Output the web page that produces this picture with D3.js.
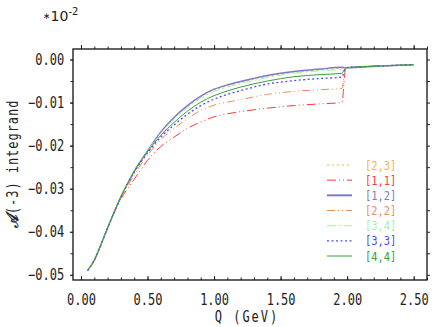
<!DOCTYPE html>
<html>
<head>
<meta charset="utf-8">
<script src="https://cdn.jsdelivr.net/npm/d3@7"></script>
<style>
  body { margin: 0; background: #fff; }
  svg { display: block; }
  .txt { font-family: "DejaVu Sans Mono", monospace; fill: #222; }
</style>
</head>
<body>
<div id="chart"></div>
<script>
const WIDTH = 436;
const HEIGHT = 327;
const LEFT = 73;
const TOP = 49;
const RIGHT = 427;
const BOTTOM = 280;

// Q values (GeV) for the region before the threshold
const qLow = [0.05, 0.10, 0.15, 0.20, 0.25, 0.30, 0.35, 0.40, 0.50, 0.60, 0.70, 0.80, 0.90, 1.00, 1.10, 1.20, 1.40, 1.60, 1.80, 1.96];
// common tail after the threshold
const qTail = [1.99, 2.25, 2.50];
const tailValues = [-0.0019, -0.0015, -0.0012];

const v23 = [-0.0490, -0.0466, -0.0430, -0.0391, -0.0354, -0.0319, -0.0289, -0.0260, -0.0213, -0.0169, -0.0136, -0.0109, -0.0087, -0.0071, -0.0061, -0.0053, -0.0039, -0.0030, -0.0024, -0.0020];
const v11 = [-0.0490, -0.0466, -0.0430, -0.0391, -0.0355, -0.0324, -0.0300, -0.0278, -0.0234, -0.0202, -0.0180, -0.0160, -0.0145, -0.0133, -0.0126, -0.0121, -0.0113, -0.0107, -0.0103, -0.0100];
const v12 = [-0.0490, -0.0466, -0.0430, -0.0391, -0.0354, -0.0319, -0.0288, -0.0259, -0.0212, -0.0168, -0.0134, -0.0107, -0.0085, -0.0069, -0.0059, -0.0051, -0.0037, -0.0028, -0.0022, -0.0018];
const v22 = [-0.0490, -0.0466, -0.0430, -0.0391, -0.0354, -0.0321, -0.0293, -0.0268, -0.0222, -0.0186, -0.0160, -0.0138, -0.0118, -0.0106, -0.0099, -0.0093, -0.0081, -0.0074, -0.0070, -0.0067];
const v34 = [-0.0490, -0.0466, -0.0430, -0.0391, -0.0354, -0.0319, -0.0288, -0.0260, -0.0213, -0.0171, -0.0139, -0.0112, -0.0090, -0.0074, -0.0064, -0.0056, -0.0042, -0.0032, -0.0026, -0.0023];
const v33 = [-0.0490, -0.0466, -0.0430, -0.0391, -0.0354, -0.0319, -0.0289, -0.0262, -0.0217, -0.0180, -0.0152, -0.0127, -0.0107, -0.0092, -0.0081, -0.0072, -0.0057, -0.0049, -0.0044, -0.0041];
const v44 = [-0.0490, -0.0466, -0.0430, -0.0391, -0.0354, -0.0319, -0.0288, -0.0260, -0.0214, -0.0176, -0.0146, -0.0120, -0.0099, -0.0084, -0.0073, -0.0064, -0.0050, -0.0040, -0.0035, -0.0032];

const seriesNames = ['[2,3]', '[1,1]', '[1,2]', '[2,2]', '[3,4]', '[3,3]', '[4,4]'];
const seriesValues = [v23, v11, v12, v22, v34, v33, v44];
const seriesColors = ['#f8b050', '#ff3a3a', '#7a7ac8', '#e89060', '#a8f0a8', '#4a4aff', '#3aa03a'];
const seriesDash = ['2,3', '9,3,1,3,1,3', null, '8,3,1,3,1,3', '9,3,2,3', '2,2.5', null];
const seriesWidth = [1, 1, 1.4, 1, 1, 1.3, 1];

const xTicks = [0, 0.5, 1.0, 1.5, 2.0, 2.5];
const yTicks = [0, -0.01, -0.02, -0.03, -0.04, -0.05];

let svg = d3.select('#chart').append('svg')
  .attr('width', WIDTH)
  .attr('height', HEIGHT);

const xScale = d3.scaleLinear().domain([-0.06, 2.6]).range([LEFT, RIGHT]);
const yScale = d3.scaleLinear().domain([0.00244, -0.0512]).range([TOP, BOTTOM]);

function styleTicks(g) {
  g.select('.domain').remove();
  g.selectAll('line').attr('stroke', '#222');
}

// minor ticks first, major on top
const xMinor = d3.range(0, 2.61, 0.1);
const yMinor = d3.range(0, -0.0511, -0.005);

svg.append('g')
  .attr('transform', `translate(0,${BOTTOM})`)
  .call(d3.axisBottom(xScale).tickValues(xMinor).tickSize(-2.5).tickFormat(''))
  .call(styleTicks);
svg.append('g')
  .attr('transform', `translate(0,${BOTTOM})`)
  .call(d3.axisBottom(xScale).tickValues(xTicks).tickSize(-4).tickPadding(14).tickFormat(d3.format('.2f')))
  .call(styleTicks)
  .selectAll('text')
  .attr('class', 'txt')
  .style('font-size', '15px')
  .attr('transform', 'scale(0.8,1)');

svg.append('g')
  .attr('transform', `translate(0,${TOP})`)
  .call(d3.axisTop(xScale).tickValues(xMinor).tickSize(2.5).tickFormat(''))
  .call(styleTicks);
svg.append('g')
  .attr('transform', `translate(0,${TOP})`)
  .call(d3.axisTop(xScale).tickValues(xTicks).tickSize(4).tickFormat(''))
  .call(styleTicks);

svg.append('g')
  .attr('transform', `translate(${LEFT},0)`)
  .call(d3.axisLeft(yScale).tickValues(yMinor).tickSize(2.5).tickFormat(''))
  .call(styleTicks);
svg.append('g')
  .attr('transform', `translate(${LEFT},0)`)
  .call(d3.axisLeft(yScale).tickValues(yTicks).tickSize(3).tickPadding(8).tickFormat(d3.format('.2f')))
  .call(styleTicks)
  .selectAll('text')
  .attr('class', 'txt')
  .style('font-size', '15px')
  .attr('transform', 'scale(0.8,1)');

svg.append('g')
  .attr('transform', `translate(${RIGHT},0)`)
  .call(d3.axisRight(yScale).tickValues(yMinor).tickSize(3).tickFormat(''))
  .call(styleTicks);

// frame
svg.append('rect')
  .attr('x', LEFT)
  .attr('y', TOP)
  .attr('width', RIGHT - LEFT)
  .attr('height', BOTTOM - TOP)
  .attr('fill', 'none')
  .attr('stroke', '#111')
  .attr('stroke-width', 1.3);

let line = d3.line()
  .x((d) => xScale(d.q))
  .y((d) => yScale(d.v))
  .curve(d3.curveMonotoneX);

seriesValues.forEach((vals, i) => {
  let pts = qLow.map((q, j) => ({q: q, v: vals[j]}))
    .concat(qTail.map((q, j) => ({q: q, v: tailValues[j]})));
  svg.append('path')
    .datum(pts)
    .attr('d', line)
    .attr('fill', 'none')
    .attr('stroke', seriesColors[i])
    .attr('stroke-width', seriesWidth[i])
    .attr('stroke-dasharray', seriesDash[i]);
});

// legend
const legendY = d3.scaleLinear().domain([0, 6]).range([165, 256]);
seriesNames.forEach((name, i) => {
  let y = legendY(i);
  svg.append('line')
    .attr('x1', 327).attr('x2', 352)
    .attr('y1', y).attr('y2', y)
    .attr('stroke', seriesColors[i])
    .attr('stroke-width', seriesWidth[i] + (i === 2 ? 0.6 : 0))
    .attr('stroke-dasharray', seriesDash[i]);
  svg.append('text')
    .attr('class', 'txt')
    .attr('transform', `translate(365,${y + 4.5}) scale(0.8,1)`)
    .style('font-size', '13px')
    .style('fill', seriesColors[i])
    .text(name);
});

// axis titles
svg.append('text')
  .attr('class', 'txt')
  .attr('transform', `translate(${(LEFT + RIGHT) / 2 - 3},322) scale(0.8,1)`)
  .attr('text-anchor', 'middle')
  .style('font-size', '15px')
  .style('letter-spacing', '2.5px')
  .text('Q (GeV)');

let yTitle = svg.append('text')
  .attr('class', 'txt')
  .attr('transform', 'translate(18,164) rotate(-90) scale(0.8,1)')
  .attr('text-anchor', 'middle')
  .style('font-size', '15px')
  .style('letter-spacing', '1.2px');
yTitle.append('tspan')
  .style('font-family', '"DejaVu Serif", serif')
  .style('font-style', 'italic')
  .style('font-weight', 'bold')
  .style('font-size', '17px')
  .text('\u{1D49C}');
yTitle.append('tspan').text('(-3) integrand');

// exponent
let expo = svg.append('text')
  .attr('x', 43)
  .attr('y', 21)
  .style('font-family', '"DejaVu Sans", sans-serif')
  .style('font-size', '14px')
  .style('fill', '#222');
expo.append('tspan').style('font-size', '9px').attr('dy', -2).text('\u2217');
expo.append('tspan').attr('dy', 2).text('10');
expo.append('tspan').style('font-size', '10px').attr('dy', -6).text('-2');
</script>
</body>
</html>
